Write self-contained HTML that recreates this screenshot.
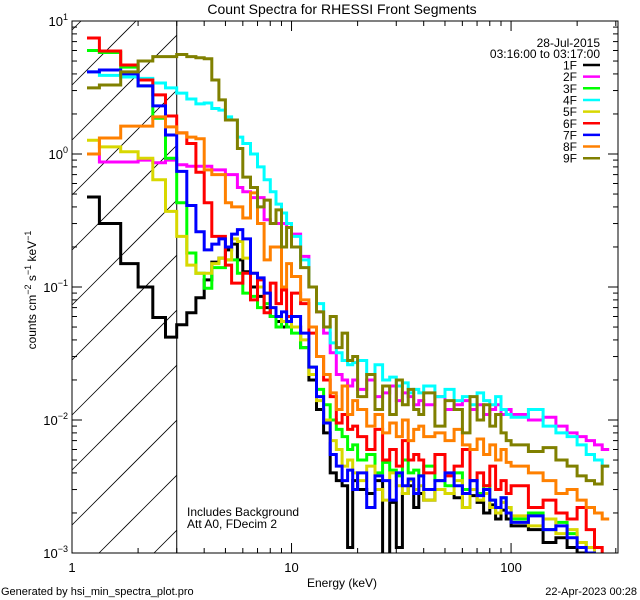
<!DOCTYPE html>
<html><head><meta charset="utf-8">
<style>
html,body{margin:0;padding:0;background:#fff;width:640px;height:600px;overflow:hidden;}
svg{display:block;font-family:"Liberation Sans",sans-serif;overflow:hidden;}
</style></head>
<body>
<svg id="chart" width="640" height="600" viewBox="0 0 640 600">
<rect x="0" y="0" width="640" height="600" fill="#fff"/>
<text x="342" y="14" text-anchor="middle" font-size="14">Count Spectra for RHESSI Front Segments</text>
<g id="hatch"></g>
<g id="series"></g>
<g id="axes"></g>
<text x="187" y="516" font-size="12">Includes Background</text>
<text x="187" y="528" font-size="12">Att A0, FDecim 2</text>
<text x="342" y="587" text-anchor="middle" font-size="12">Energy (keV)</text>
<text transform="translate(36,290) rotate(-90)" text-anchor="middle" font-size="12">counts cm<tspan dy="-5" font-size="9">−2</tspan><tspan dy="5"> s</tspan><tspan dy="-5" font-size="9">−1</tspan><tspan dy="5"> keV</tspan><tspan dy="-5" font-size="9">−1</tspan></text>
<text x="1" y="595" font-size="11">Generated by hsi_min_spectra_plot.pro</text>
<text x="637" y="595" text-anchor="end" font-size="11">22-Apr-2023 00:28</text>
<g id="legend"></g>
</svg>
<script>
const edges=[1.17,1.333,1.667,2,2.333,2.667,3,3.333,3.667,4,4.333,4.667,5,5.333,5.667,6,6.5,7,7.5,8,8.5,9,9.5,10,11,12,13,14,15,16,17,18,19,20,22,24,26,28,30,32,34,36,38,40,45,50,55,60,65,70,75,80,85,90,95,100,120,140,160,180,200,220,240,260,280,307];
const seriesNames=["1F","2F","3F","4F","5F","6F","7F","8F","9F"];
const seriesColors=["#000000","#ff00ff","#00ff00","#00ffff","#d8d800","#ff0000","#0000ff","#ff8000","#808000"];
const s1F=[0.475,0.30,0.15,0.1,0.059,0.042,0.052,0.064,0.083,0.113,0.154,0.165,0.19,0.21,0.16,0.13,0.1,0.085,0.07,0.06,0.055,0.05,0.055,0.05,0.035,0.02,0.012,0.008,0.004,0.0035,0.0032,0.0011,0.0035,0.003,0.0028,0.0035,0.0009,0.0024,0.0011,0.0028,0.0032,0.0022,0.0028,0.0025,0.003,0.0028,0.0026,0.0022,0.0027,0.0024,0.002,0.0023,0.0018,0.0021,0.0018,0.0016,0.0015,0.0012,0.0013,0.0011,0.001,0.0009,0.0008,0.0007];
const s2F=[1.0,0.87,0.87,0.9,0.86,0.9,0.83,0.81,0.81,0.81,0.76,0.76,0.7,0.7,0.56,0.52,0.47,0.47,0.32,0.3,0.3,0.3,0.28,0.25,0.17,0.1,0.065,0.045,0.032,0.022,0.02,0.018,0.02,0.017,0.02,0.015,0.016,0.018,0.014,0.016,0.015,0.013,0.014,0.013,0.015,0.012,0.013,0.014,0.012,0.013,0.011,0.012,0.013,0.011,0.012,0.011,0.01,0.0105,0.009,0.008,0.0075,0.007,0.0065,0.006];
const s3F=[6.0,5.8,4.5,3.25,1.86,0.93,0.43,0.18,0.127,0.098,0.14,0.14,0.16,0.16,0.127,0.09,0.085,0.07,0.075,0.06,0.05,0.055,0.05,0.045,0.035,0.025,0.017,0.013,0.01,0.0085,0.0075,0.006,0.0065,0.005,0.0055,0.004,0.0048,0.0042,0.0038,0.005,0.004,0.0042,0.0038,0.0045,0.0035,0.0032,0.004,0.003,0.0035,0.0028,0.0032,0.0025,0.0022,0.0026,0.0022,0.0018,0.002,0.0015,0.0017,0.0014,0.0012,0.0011,0.0009,0.0008];
const s4F=[4.14,3.9,3.79,3.7,3.42,3.14,2.87,2.59,2.38,2.42,2.2,2.14,1.9,1.8,1.34,1.2,1.0,0.8,0.64,0.52,0.42,0.36,0.3,0.24,0.16,0.1,0.075,0.05,0.038,0.032,0.028,0.026,0.027,0.028,0.022,0.026,0.02,0.021,0.018,0.019,0.016,0.017,0.016,0.018,0.015,0.017,0.014,0.015,0.013,0.016,0.014,0.013,0.015,0.012,0.011,0.0105,0.012,0.009,0.008,0.0075,0.0065,0.0055,0.005,0.0045];
const s5F=[1.27,1.13,1.04,0.93,0.64,0.37,0.24,0.146,0.127,0.127,0.15,0.165,0.16,0.23,0.22,0.165,0.127,0.1,0.09,0.07,0.06,0.055,0.06,0.05,0.04,0.022,0.014,0.01,0.007,0.006,0.0045,0.005,0.004,0.0035,0.0045,0.003,0.0025,0.004,0.0032,0.0028,0.0035,0.003,0.0032,0.0025,0.003,0.0028,0.0035,0.0022,0.003,0.0025,0.0028,0.0022,0.002,0.0024,0.0022,0.0019,0.0016,0.0018,0.0014,0.0015,0.0012,0.0011,0.0009,0.0008];
const s6F=[7.45,5.95,4.67,3.6,2.78,1.93,1.44,1.2,0.73,0.43,0.24,0.24,0.146,0.107,0.107,0.127,0.08,0.113,0.064,0.107,0.075,0.095,0.06,0.09,0.075,0.045,0.03,0.02,0.015,0.0095,0.011,0.0085,0.009,0.0075,0.006,0.0085,0.005,0.006,0.0045,0.007,0.005,0.0055,0.005,0.004,0.0055,0.0038,0.0045,0.006,0.0035,0.004,0.0032,0.0045,0.003,0.0035,0.0028,0.0032,0.0022,0.0025,0.002,0.0018,0.0022,0.0015,0.0011,0.0009];
const s7F=[4.14,4.28,4.0,3.25,2.3,1.39,0.74,0.41,0.26,0.19,0.21,0.23,0.2,0.25,0.27,0.23,0.127,0.117,0.09,0.07,0.06,0.065,0.055,0.06,0.045,0.025,0.015,0.0095,0.0055,0.0045,0.0035,0.0042,0.003,0.004,0.0022,0.0038,0.0035,0.0025,0.004,0.0032,0.0036,0.0028,0.0038,0.003,0.0035,0.004,0.0032,0.0028,0.0035,0.0027,0.003,0.0025,0.0022,0.0026,0.002,0.0017,0.0019,0.0015,0.0016,0.0013,0.0011,0.001,0.0008,0.0007];
const s8F=[1.0,1.32,1.62,1.62,1.9,1.6,1.44,1.34,1.3,0.76,0.7,0.7,0.43,0.4,0.4,0.33,0.51,0.3,0.16,0.2,0.2,0.1,0.15,0.12,0.08,0.05,0.03,0.022,0.016,0.012,0.018,0.011,0.014,0.012,0.009,0.011,0.008,0.0095,0.0075,0.01,0.007,0.0085,0.009,0.0075,0.008,0.007,0.0085,0.0065,0.006,0.0072,0.0055,0.0065,0.005,0.006,0.0048,0.0045,0.004,0.0035,0.0028,0.003,0.0025,0.0022,0.002,0.0018];
const s9F=[3.14,3.3,4.14,5.0,5.4,5.4,5.6,5.4,5.3,5.2,3.6,2.55,1.8,1.8,1.1,0.67,0.56,0.4,0.45,0.3,0.38,0.2,0.28,0.2,0.14,0.1,0.065,0.05,0.06,0.035,0.045,0.028,0.03,0.015,0.022,0.012,0.018,0.011,0.02,0.013,0.017,0.012,0.011,0.016,0.009,0.014,0.012,0.008,0.015,0.01,0.013,0.009,0.011,0.008,0.007,0.0065,0.0058,0.0062,0.005,0.0045,0.0038,0.0035,0.0033,0.0045];
const allSeries=[s1F,s2F,s3F,s4F,s5F,s6F,s7F,s8F,s9F];
const xTickLabels=["1","10","100"];
const yTickExps=["1","0","-1","-2","-3"];

const NS="http://www.w3.org/2000/svg";
const L=72,R=618,T=21,B=553;
const xMin=1,xMax=307,yMin=0.001,yMax=10;
function xs(e){return L+(Math.log10(e)-Math.log10(xMin))/(Math.log10(xMax)-Math.log10(xMin))*(R-L);}
function ys(v){return B-(Math.log10(v)-Math.log10(yMin))/(Math.log10(yMax)-Math.log10(yMin))*(B-T);}
function mk(tag,attrs,parent){const el=document.createElementNS(NS,tag);for(const k in attrs)el.setAttribute(k,attrs[k]);parent.appendChild(el);return el;}

const svg=document.getElementById('chart');
const defs=mk('defs',{},svg);
const cp=mk('clipPath',{id:'plotclip'},defs);
mk('rect',{x:L,y:T,width:R-L,height:B-T},cp);

// hatching, segments computed inside the hatch box (no clipping needed)
const hatch=document.getElementById('hatch');
const X3=xs(3);
for(let c=30;c<=B+(X3-L);c+=55){
  // line: y = c - (x - L)
  let xa=L, ya=c;
  if(ya>B){xa=L+(ya-B);ya=B;}
  let xb=X3, yb=c-(X3-L);
  if(yb<T){xb=L+(c-T);yb=T;}
  if(xa>=xb)continue;
  const ln=mk('line',{x1:xa.toFixed(1),y1:ya.toFixed(1),x2:xb.toFixed(1),y2:yb.toFixed(1),stroke:'#000','stroke-width':0.8},hatch);
  
  
}
const vline=mk('line',{x1:X3,y1:T,x2:X3,y2:B,stroke:'#000','stroke-width':1},hatch);



const sg=document.getElementById('series');
sg.setAttribute('clip-path','url(#plotclip)');
allSeries.forEach((vals,si)=>{
  let d='';
  const n=Math.min(vals.length,edges.length-1);
  for(let i=0;i<n;i++){
    const v=Math.max(vals[i],0.0009);
    const y=Math.min(ys(v),B+2).toFixed(1);
    const x0=xs(edges[i]).toFixed(1),x1=xs(edges[i+1]).toFixed(1);
    d+=(i===0?'M':'L')+x0+' '+y+' L'+x1+' '+y+' ';
  }
  const p=mk('path',{d:d,fill:'none',stroke:seriesColors[si],'stroke-width':3,'stroke-linejoin':'miter'},sg);
  
  
});

const ax=document.getElementById('axes');
const frame=mk('rect',{x:L,y:T,width:R-L,height:B-T,fill:'none',stroke:'#000','stroke-width':1},ax);


for(let dec=0;dec<=2;dec++){
  for(let m=1;m<=9;m++){
    const e=m*Math.pow(10,dec);
    if(e>xMax)continue;
    const x=xs(e);const len=m===1?10:5;
    mk('line',{x1:x,y1:B,x2:x,y2:B-len,stroke:'#000','stroke-width':1},ax);
    mk('line',{x1:x,y1:T,x2:x,y2:T+len,stroke:'#000','stroke-width':1},ax);
  }
}
xTickLabels.forEach(lbl=>{
  const t=mk('text',{x:xs(+lbl),y:572,'text-anchor':'middle','font-size':13},ax);
  t.textContent=lbl;
  
  
});
for(let dec=-3;dec<=0;dec++){
  for(let m=1;m<=9;m++){
    const v=m*Math.pow(10,dec);const y=ys(v);const len=m===1?10:5;
    mk('line',{x1:L,y1:y,x2:L+len,y2:y,stroke:'#000','stroke-width':1},ax);
    mk('line',{x1:R,y1:y,x2:R-len,y2:y,stroke:'#000','stroke-width':1},ax);
  }
}
mk('line',{x1:L,y1:T,x2:L+10,y2:T,stroke:'#000'},ax);
yTickExps.forEach(ex=>{
  const y=ys(Math.pow(10,+ex));
  const t=mk('text',{x:L-4,y:y+5,'text-anchor':'end','font-size':13},ax);
  
  
  const base=document.createElementNS(NS,'tspan');base.textContent='10';t.appendChild(base);
  const sup=document.createElementNS(NS,'tspan');sup.setAttribute('dy','-6');sup.setAttribute('font-size','9');
  sup.textContent=ex.replace('-','−');t.appendChild(sup);
});

const lg=document.getElementById('legend');
const d1=mk('text',{x:600,y:47,'text-anchor':'end','font-size':12},lg);
d1.textContent='28-Jul-2015';


const d2=mk('text',{x:600,y:58,'text-anchor':'end','font-size':12},lg);
d2.textContent='03:16:00 to 03:17:00';


seriesNames.forEach((nm,i)=>{
  const y=65+i*11.65;
  const g=mk('g',{},lg);
  
  
  const t=mk('text',{x:577,y:y+4.5,'text-anchor':'end','font-size':12},g);
  t.textContent=nm;
  mk('line',{x1:583,y1:y,x2:600,y2:y,stroke:seriesColors[i],'stroke-width':2.5},g);
});
</script>
</body></html>
